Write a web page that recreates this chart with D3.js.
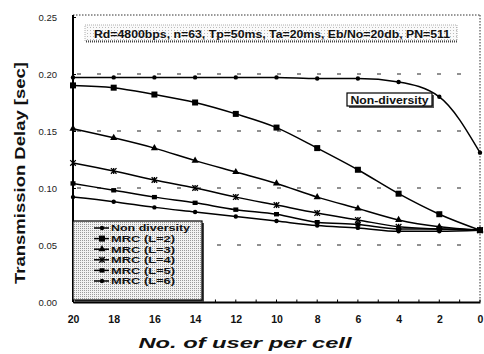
<!DOCTYPE html>
<html>
<head>
<meta charset="utf-8">
<script src="https://cdn.jsdelivr.net/npm/d3@7"></script>
<style>
  body { margin: 0; background: #fff; }
  svg { display: block; font-family: "Liberation Sans", Arial, sans-serif; }
</style>
</head>
<body>
<svg id="chart" width="484" height="354"></svg>
<script>
// values
var users = [20, 18, 16, 14, 12, 10, 8, 6, 4, 2, 0]
var nonDiversity = [0.197, 0.197, 0.197, 0.197, 0.197, 0.197, 0.196, 0.196, 0.193, 0.180, 0.131]
var mrc2 = [0.190, 0.188, 0.182, 0.175, 0.165, 0.153, 0.135, 0.116, 0.095, 0.077, 0.063]
var mrc3 = [0.152, 0.144, 0.135, 0.124, 0.114, 0.104, 0.092, 0.082, 0.072, 0.066, 0.063]
var mrc4 = [0.122, 0.115, 0.107, 0.100, 0.092, 0.085, 0.078, 0.072, 0.066, 0.064, 0.063]
var mrc5 = [0.104, 0.098, 0.092, 0.087, 0.081, 0.077, 0.070, 0.068, 0.064, 0.064, 0.063]
var mrc6 = [0.092, 0.088, 0.083, 0.079, 0.075, 0.071, 0.067, 0.065, 0.062, 0.062, 0.063]
var seriesNames = ["Non diversity", "MRC (L=2)", "MRC (L=3)", "MRC (L=4)", "MRC (L=5)", "MRC (L=6)"]
var seriesMarkers = ["dot", "square", "triangle", "star", "bigdot", "dot"]
var yTicks = [0, 0.05, 0.10, 0.15, 0.20, 0.25]
var xTicks = [20, 18, 16, 14, 12, 10, 8, 6, 4, 2, 0]

var allSeries = [nonDiversity, mrc2, mrc3, mrc4, mrc5, mrc6]

var svg = d3.select("#chart")

var x = d3.scaleLinear().domain([20, 0]).range([73, 480])
var y = d3.scaleLinear().domain([0, 0.25]).range([302, 17])

// stipple patterns
var defs = svg.append("defs")
var pat = defs.append("pattern").attr("id", "stip").attr("width", 2).attr("height", 2)
  .attr("patternUnits", "userSpaceOnUse")
pat.append("rect").attr("width", 2).attr("height", 2).attr("fill", "#f2f2f2")
pat.append("rect").attr("width", 1).attr("height", 1).attr("fill", "#9a9a9a")
var pat2 = defs.append("pattern").attr("id", "stip2").attr("width", 3).attr("height", 3)
  .attr("patternUnits", "userSpaceOnUse")
pat2.append("rect").attr("width", 3).attr("height", 3).attr("fill", "#fafafa")
pat2.append("rect").attr("width", 1).attr("height", 1).attr("fill", "#bbb")

// dashed grid
svg.selectAll(".grid")
  .data([0.05, 0.10, 0.15, 0.20])
  .enter().append("line")
  .attr("x1", x(20) + 4).attr("x2", x(0) - 4)
  .attr("y1", function(d) { return y(d) }).attr("y2", function(d) { return y(d) })
  .attr("stroke", "#222").attr("stroke-width", 1.2)
  .attr("stroke-dasharray", "4,16")

// frame: dotted top and right
svg.append("line").attr("x1", x(20)).attr("x2", x(0)).attr("y1", 15).attr("y2", 15)
  .attr("stroke", "#333").attr("stroke-width", 1).attr("stroke-dasharray", "1.5,1.5")
svg.append("line").attr("x1", x(0)).attr("x2", x(0)).attr("y1", 15).attr("y2", y(0))
  .attr("stroke", "#333").attr("stroke-width", 1).attr("stroke-dasharray", "1.5,1.5")

// y axis
var yAxis = svg.append("g").attr("transform", "translate(" + x(20) + ",0)")
  .call(d3.axisLeft(y).tickValues(yTicks).tickFormat(d3.format(".2f")).tickSize(-3).tickPadding(16))
yAxis.select(".domain").attr("stroke", "#000").attr("stroke-width", 2).attr("d", "M0,15V" + y(0))
yAxis.selectAll("text").attr("font-size", 9.5).attr("fill", "#222")

// x axis
var xAxis = svg.append("g").attr("transform", "translate(0," + y(0) + ")")
  .call(d3.axisBottom(x).tickValues(xTicks).tickFormat(d3.format("d")).tickSize(0).tickPadding(14))
xAxis.select(".domain").attr("stroke", "#000").attr("stroke-width", 2)
xAxis.selectAll("text").attr("font-size", 10.5).attr("font-weight", "bold").attr("fill", "#111")
xAxis.selectAll(".minor")
  .data(d3.range(0, 21, 1))
  .enter().append("line").attr("class", "minor")
  .attr("x1", function(d) { return x(d) }).attr("x2", function(d) { return x(d) })
  .attr("y1", 0).attr("y2", -2.5).attr("stroke", "#000").attr("stroke-width", 1)

// axis titles
svg.append("text")
  .attr("transform", "translate(25,173) rotate(-90)")
  .attr("text-anchor", "middle")
  .attr("font-size", 14.5).attr("font-weight", "bold").attr("fill", "#111")
  .attr("textLength", 222).attr("lengthAdjust", "spacingAndGlyphs")
  .text("Transmission Delay [sec]")
svg.append("text")
  .attr("x", 245).attr("y", 348)
  .attr("text-anchor", "middle")
  .attr("font-size", 15).attr("font-weight", "bold").attr("font-style", "italic").attr("fill", "#111")
  .attr("textLength", 213).attr("lengthAdjust", "spacingAndGlyphs")
  .text("No. of user per cell")

// markers
function drawMarker(g, kind, cx, cy) {
  if (kind == "dot") {
    g.append("circle").attr("cx", cx).attr("cy", cy).attr("r", 2.2).attr("fill", "#000")
  } else if (kind == "bigdot") {
    g.append("rect").attr("x", cx - 2.5).attr("y", cy - 2.2).attr("width", 5).attr("height", 4.4).attr("fill", "#000")
  } else if (kind == "square") {
    g.append("rect").attr("x", cx - 3).attr("y", cy - 3).attr("width", 6).attr("height", 6).attr("fill", "#000")
  } else if (kind == "triangle") {
    g.append("path").attr("d", d3.symbol(d3.symbolTriangle, 22)()).attr("transform", "translate(" + cx + "," + cy + ")").attr("fill", "#000")
  } else if (kind == "star") {
    g.append("path").attr("d", d3.symbol(d3.symbolTimes, 22)()).attr("transform", "translate(" + cx + "," + cy + ")")
      .attr("fill", "none").attr("stroke", "#000").attr("stroke-width", 1.3)
    g.append("line").attr("x1", cx).attr("x2", cx).attr("y1", cy - 3).attr("y2", cy + 3).attr("stroke", "#000").attr("stroke-width", 1.3)
  }
}

var line = d3.line()
  .x(function(d) { return x(d[0]) })
  .y(function(d) { return y(d[1]) })
  .curve(d3.curveMonotoneX)

allSeries.forEach(function(vals, i) {
  var pts = users.map(function(u, j) { return [u, vals[j]] })
  var g = svg.append("g")
  g.append("path").datum(pts).attr("d", line)
    .attr("fill", "none").attr("stroke", "#000").attr("stroke-width", 1.5)
  pts.forEach(function(p) { drawMarker(g, seriesMarkers[i], x(p[0]), y(p[1])) })
})

// parameter box
svg.append("rect").attr("x", 85).attr("y", 25).attr("width", 372).attr("height", 16)
  .attr("fill", "url(#stip2)").attr("stroke", "#999").attr("stroke-width", 0.8).attr("stroke-dasharray", "1,1")
svg.append("line").attr("x1", 86).attr("x2", 457).attr("y1", 41.5).attr("y2", 41.5)
  .attr("stroke", "#444").attr("stroke-width", 2).attr("stroke-dasharray", "1,1")
svg.append("text").attr("x", 272).attr("y", 37.5).attr("text-anchor", "middle")
  .attr("font-size", 11).attr("font-weight", "bold").attr("fill", "#111")
  .attr("textLength", 356).attr("lengthAdjust", "spacingAndGlyphs")
  .text("Rd=4800bps, n=63, Tp=50ms, Ta=20ms, Eb/No=20db, PN=511")

// Non-diversity label
svg.append("rect").attr("x", 349).attr("y", 95).attr("width", 85).attr("height", 13).attr("fill", "#555")
svg.append("rect").attr("x", 347).attr("y", 93).attr("width", 85).attr("height", 13)
  .attr("fill", "#fff").attr("stroke", "#000").attr("stroke-width", 1.2)
svg.append("text").attr("x", 389.5).attr("y", 103.5).attr("text-anchor", "middle")
  .attr("font-size", 10.5).attr("font-weight", "bold").attr("fill", "#111")
  .attr("textLength", 78).attr("lengthAdjust", "spacingAndGlyphs")
  .text("Non-diversity")

// legend
var lg = svg.append("g")
lg.append("rect").attr("x", 75).attr("y", 223).attr("width", 129).attr("height", 79)
  .attr("fill", "#444")
lg.append("rect").attr("x", 73).attr("y", 221).attr("width", 129).attr("height", 79)
  .attr("fill", "url(#stip)").attr("stroke", "#000").attr("stroke-width", 1.2)
seriesNames.forEach(function(name, i) {
  var ly = 228 + i * 10.6
  lg.append("line").attr("x1", 94).attr("x2", 109).attr("y1", ly).attr("y2", ly)
    .attr("stroke", "#000").attr("stroke-width", 1.5)
  drawMarker(lg, seriesMarkers[i], 102, ly)
  lg.append("text").attr("x", 111).attr("y", ly + 3.3)
    .attr("font-size", 9).attr("font-weight", "bold").attr("fill", "#111")
    .attr("textLength", i == 0 ? 79 : 64).attr("lengthAdjust", "spacingAndGlyphs")
    .text(name)
})
</script>
</body>
</html>
